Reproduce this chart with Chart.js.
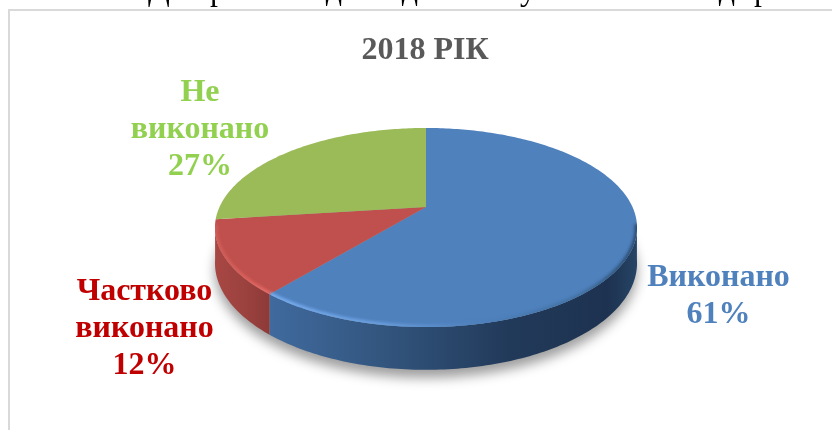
<!DOCTYPE html>
<html>
<head>
<meta charset="utf-8">
<style>html,body{margin:0;padding:0;background:#fff}canvas{display:block}</style>
<script src="https://cdn.jsdelivr.net/npm/chart.js@4"></script>
</head>
<body>
<canvas id="c" width="832" height="430"></canvas>
<script>
const chartTitle = '2018 РІК';
const categories = ['Виконано', 'Частково виконано', 'Не виконано'];
const values = [61, 12, 27];
const sliceColors = ['#4F81BD', '#C0504D', '#9BBB59'];
const labelColors = ['#4F81BD', '#C00000', '#92D050'];
const labelLines = [['Виконано'], ['Частково', 'виконано'], ['Не', 'виконано']];
const labelCentres = [[718.5, 286], [144.5, 300], [200, 101]];
const clippedLetters = [['Д',159],['р',218],['д',334],['д',410],['у',528],['д',727],['р',762]];

const TILT = 0.4615, PERSP = 0.206, DEPTH = 34;
const SERIF = '"Liberation Serif","Times New Roman",serif';

function proj(el, th) {
  const u = Math.sin(th), v = Math.cos(th), w = 1 + PERSP * v, r = el.outerRadius;
  return { x: el.x + r * u / w, y: el.y - r * TILT * v / w, w };
}
function toTheta(a) { return a + Math.PI / 2; }

function rimPath(ctx, el, t0, t1, first) {
  const n = Math.max(4, Math.ceil(Math.abs(t1 - t0) * 60));
  for (let i = 0; i <= n; i++) {
    const p = proj(el, t0 + (t1 - t0) * i / n);
    if (i === 0 && first) ctx.moveTo(p.x, p.y); else ctx.lineTo(p.x, p.y);
  }
}
function sidePath(ctx, el, t0, t1) {
  const n = Math.max(4, Math.ceil((t1 - t0) * 60));
  ctx.beginPath();
  rimPath(ctx, el, t0, t1, true);
  for (let i = n; i >= 0; i--) {
    const p = proj(el, t0 + (t1 - t0) * i / n);
    ctx.lineTo(p.x, p.y + DEPTH / p.w);
  }
  ctx.closePath();
}

const pie3d = {
  id: 'pie3d',
  beforeDatasetsDraw(chart) {
    const ctx = chart.ctx, arcs = chart.getDatasetMeta(0).data;
    const el = arcs[0];
    const VIS0 = 100 * Math.PI / 180, VIS1 = 260 * Math.PI / 180;
    const s = Math.PI * 2;

    ctx.save();
    // soft ground shadow
    ctx.filter = 'blur(6px)';
    ctx.fillStyle = 'rgba(0,0,0,0.38)';
    ctx.beginPath();
    for (let i = 0; i <= 200; i++) {
      const p = proj(el, s * i / 200);
      const qx = el.x + (p.x - el.x) * 1.0, qy = p.y + DEPTH / p.w + 8;
      if (i === 0) ctx.moveTo(qx, qy); else ctx.lineTo(qx, qy);
    }
    ctx.closePath();
    ctx.fill();
    ctx.restore();

    // side walls
    arcs.forEach((a, i) => {
      const t0 = Math.max(toTheta(a.startAngle), VIS0);
      const t1 = Math.min(toTheta(a.endAngle), VIS1);
      if (t1 <= t0) return;
      const g = ctx.createLinearGradient(proj(a, t1).x, 0, proj(a, t0).x, 0);
      if (i === 0) {
        g.addColorStop(0, '#406a9e'); g.addColorStop(0.3, '#33567f');
        g.addColorStop(0.65, '#223a5a'); g.addColorStop(0.92, '#1d3250'); g.addColorStop(1, '#264465');
      } else {
        g.addColorStop(0, '#a84744'); g.addColorStop(0.6, '#9a413e'); g.addColorStop(1, '#8d3a38');
      }
      ctx.fillStyle = g;
      sidePath(ctx, a, t0, t1);
      ctx.fill();
    });

    // top face
    arcs.forEach((a, i) => {
      ctx.fillStyle = sliceColors[i];
      ctx.beginPath();
      ctx.moveTo(a.x, a.y);
      rimPath(ctx, a, toTheta(a.startAngle), toTheta(a.endAngle), false);
      ctx.closePath();
      ctx.fill();
    });

    // rim bevel on the front edge
    ctx.save();
    ctx.beginPath();
    rimPath(ctx, el, 0, s, true);
    ctx.closePath();
    ctx.clip();
    ctx.filter = 'blur(1.5px)';
    ctx.lineWidth = 5;
    arcs.forEach((a, i) => {
      const t0 = Math.max(toTheta(a.startAngle), VIS0);
      const t1 = Math.min(toTheta(a.endAngle), VIS1);
      if (t1 <= t0) return;
      const g = ctx.createLinearGradient(proj(a, t1).x, 0, proj(a, t0).x, 0);
      if (i === 0) {
        g.addColorStop(0, '#78aef2'); g.addColorStop(0.3, '#6a9edd');
        g.addColorStop(0.55, '#4F81BD'); g.addColorStop(0.85, '#41709f'); g.addColorStop(1, '#2a4a70');
      } else {
        g.addColorStop(0, '#cf5d59'); g.addColorStop(0.6, '#dc625d'); g.addColorStop(1, '#ea6f69');
      }
      ctx.strokeStyle = g;
      ctx.beginPath();
      rimPath(ctx, a, t0, t1, true);
      ctx.stroke();
    });
    ctx.restore();
    return false;
  },
  afterDraw(chart) {
    const ctx = chart.ctx;
    ctx.save();
    // frame
    ctx.fillStyle = '#d9d9d9';
    ctx.fillRect(8, 9, 824, 2);
    ctx.fillRect(8, 9, 2, 421);
    // clipped line of the surrounding document
    ctx.fillStyle = '#000';
    ctx.font = '32px ' + SERIF;
    ctx.textAlign = 'center';
    ctx.textBaseline = 'alphabetic';
    clippedLetters.forEach(([t, x]) => ctx.fillText(t, x, 0));
    // title
    ctx.fillStyle = '#595959';
    ctx.font = 'bold 32px ' + SERIF;
    ctx.fillText(chartTitle, 425, 59);
    // labels
    categories.forEach((cat, i) => {
      ctx.fillStyle = labelColors[i];
      const lines = labelLines[i].concat([values[i] + '%']);
      lines.forEach((t, k) => ctx.fillText(t, labelCentres[i][0], labelCentres[i][1] + k * 36.8));
    });
    ctx.restore();
  }
};

new Chart(document.getElementById('c'), {
  type: 'pie',
  data: { labels: categories, datasets: [{ data: values, backgroundColor: sliceColors, borderWidth: 0 }] },
  options: {
    responsive: false,
    animation: false,
    events: [],
    layout: { padding: { left: 219.5, right: 199.5, top: 0.5, bottom: 16.5 } },
    plugins: { legend: { display: false }, tooltip: { enabled: false }, title: { display: false } }
  },
  plugins: [pie3d]
});
</script>
</body>
</html>
